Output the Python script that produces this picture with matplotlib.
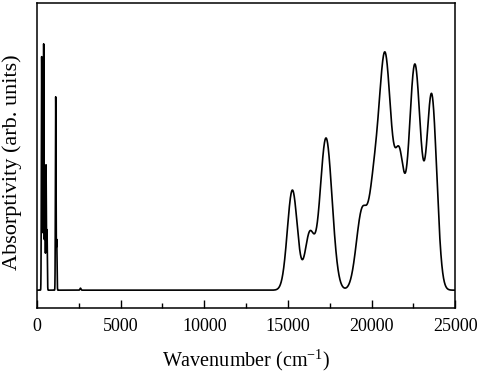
import numpy as np
import matplotlib
matplotlib.use("Agg")
import matplotlib.pyplot as plt
from matplotlib.ticker import MultipleLocator

# band centers (cm-1), heights (arb.), widths (sigma, cm-1)
ir_centers = [280, 330, 400, 470, 540, 600, 1120, 1180, 2600]
ir_heights = [230, 150, 246, 120, 125, 60, 193, 50, 2]
ir_widths = [18, 18, 18, 18, 18, 18, 18, 18, 30]

uv_centers = [15270, 16300, 17280, 19450, 20100, 20800, 21680, 22590, 23600]
uv_heights = [100, 55, 152, 80, 58, 236, 112, 225, 192]
uv_widths = [300, 280, 360, 350, 260, 400, 270, 360, 300]


def spectrum(x, centers, heights, widths):
    y = np.zeros_like(x)
    for c, h, w in zip(centers, heights, widths):
        y += h * np.exp(-0.5 * ((x - c) / w) ** 2)
    return y


def main():
    plt.rcParams["font.family"] = ["Liberation Serif", "DejaVu Serif"]
    plt.rcParams["mathtext.fontset"] = "custom"
    plt.rcParams["mathtext.rm"] = "Liberation Serif"

    x = np.linspace(0, 25000, 50001)
    y = spectrum(x, ir_centers, ir_heights, ir_widths) + spectrum(x, uv_centers, uv_heights, uv_widths)

    fig = plt.figure(figsize=(4.79, 3.74), dpi=100)
    ax = fig.add_axes([0.0772, 0.176, 0.873, 0.816])
    ax.plot(x, y, color="black", lw=1.2)

    ax.set_xlim(0, 25000)
    ax.set_ylim(-18, 287)
    ax.xaxis.set_major_locator(MultipleLocator(5000))
    ax.xaxis.set_minor_locator(MultipleLocator(2500))
    ax.tick_params(axis="x", which="major", direction="in", length=6, width=1, labelsize=13, pad=7)
    ax.tick_params(axis="x", which="minor", direction="in", length=3.5, width=1)
    ax.set_yticks([])
    for s in ax.spines.values():
        s.set_linewidth(1.1)

    ax.set_xlabel("Wavenumber (cm$^{-1}$)", fontsize=14.5, labelpad=9)
    ax.set_ylabel("Absorptivity (arb. units)", fontsize=16)
    ax.yaxis.set_label_coords(-0.035, 0.479)

    fig.savefig("out.png", dpi=100)


if __name__ == "__main__":
    main()
